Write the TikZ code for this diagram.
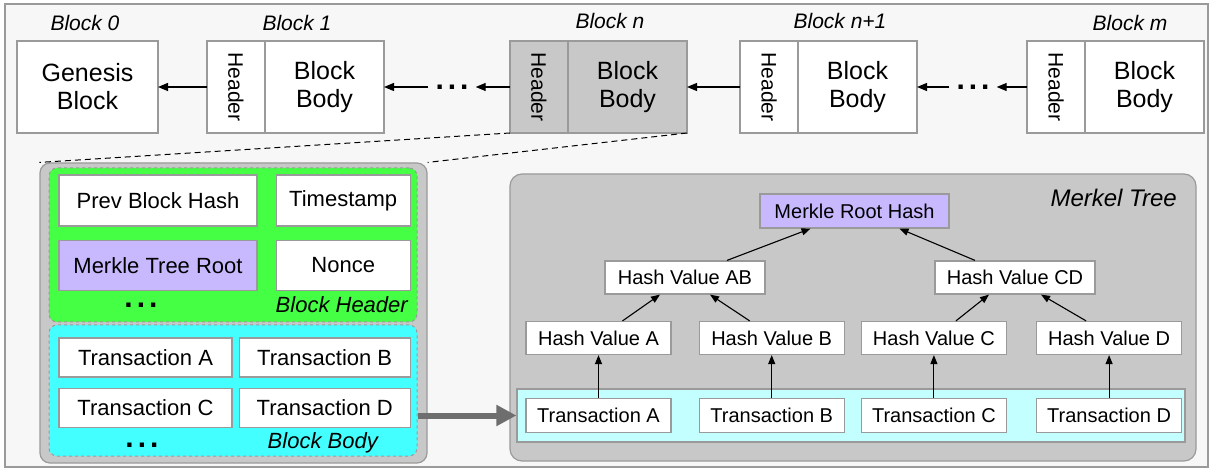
\documentclass[tikz,border=0pt]{standalone}
\usepackage{fontspec}
\setmainfont{Liberation Sans}
\usepackage{graphicx}
\usetikzlibrary{arrows.meta,positioning}
\definecolor{framebg}{HTML}{F7F7F7}
\definecolor{edgegray}{HTML}{9A9A9A}
\definecolor{cellgray}{HTML}{C8C8C8}
\definecolor{hdrgreen}{HTML}{44FF44}
\definecolor{bodycyan}{HTML}{44FFFF}
\definecolor{palecyan}{HTML}{C4FFFF}
\definecolor{rootlav}{HTML}{C8B9FF}
\definecolor{linkgray}{HTML}{6E6E6E}
\newcommand{\gapdots}{.\hspace{4pt}.\hspace{4pt}.}

\begin{document}
\begin{tikzpicture}[
x=1pt, y=-1pt,
cell/.style={draw=edgegray, fill=white, line width=1.2pt, inner sep=0pt, outer sep=0pt, align=center, minimum height=92pt, font=\fontsize{25}{28}\selectfont},
hdrcell/.style={cell, minimum width=58pt, font=\fontsize{21}{24}\selectfont},
bodycell/.style={cell, minimum width=119pt},
tag/.style={inner sep=0pt, font=\fontsize{21}{24}\selectfont\itshape},
dotsnode/.style={inner sep=0pt, minimum width=47pt, text height=4.2pt, text depth=0pt, font=\fontsize{30}{30}\selectfont\bfseries},
panel/.style={draw=edgegray, fill=cellgray, line width=1.2pt, rounded corners=10pt, inner sep=0pt},
zone/.style={draw=edgegray, dashed, line width=1pt, rounded corners=8pt, inner sep=0pt, minimum width=368pt},
field/.style={draw=edgegray, fill=white, line width=1.2pt, inner sep=0pt, font=\fontsize{22}{24}\selectfont},
hashbox/.style={draw=edgegray, fill=white, line width=1.2pt, inner sep=0pt, minimum width=145pt, minimum height=33pt, font=\fontsize{20}{22}\selectfont},
arrow/.style={-{Triangle[length=10pt,width=8pt]}, line width=1.2pt},
treearrow/.style={-{Triangle[length=9pt,width=7pt]}, line width=1.1pt},
biglink/.style={-{Triangle[length=20pt,width=20pt]}, line width=6pt, draw=linkgray}
]
\useasboundingbox (0,0) rectangle (1213,470);
\draw[draw=edgegray, fill=framebg, line width=1.5pt] (5,4) rectangle (1208,467);

\node[cell, minimum width=141pt] (b0) at (87.5,87) {Genesis\\Block};
\node[hdrcell] (b1h) at (236,87) {\rotatebox[origin=c]{-90}{Header}};
\node[bodycell, right=0pt of b1h] (b1b) {Block\\Body};
\node[dotsnode] (gap1) at (452,87) {\gapdots};
\node[hdrcell, fill=cellgray] (bnh) at (539,87) {\rotatebox[origin=c]{-90}{Header}};
\node[bodycell, fill=cellgray, right=0pt of bnh] (bnb) {Block\\Body};
\node[hdrcell] (bn1h) at (769,87) {\rotatebox[origin=c]{-90}{Header}};
\node[bodycell, right=0pt of bn1h] (bn1b) {Block\\Body};
\node[dotsnode] (gap2) at (973,87) {\gapdots};
\node[hdrcell] (bmh) at (1056,87) {\rotatebox[origin=c]{-90}{Header}};
\node[bodycell, right=0pt of bmh] (bmb) {Block\\Body};

\node[tag] (t0) at (85,23) {Block 0};
\node[tag] (t1) at (297,23) {Block 1};
\node[tag] (tn) at (610,21) {Block n};
\node[tag] (tn1) at (840,21) {Block n+1};
\node[tag] (tm) at (1130,23) {Block m};

\draw[arrow] (b1h) -- (b0);
\draw[arrow] (gap1) -- (b1b);
\draw[arrow] (bnh) -- (gap1);
\draw[arrow] (bn1h) -- (bnb);
\draw[arrow] (gap2) -- (bn1b);
\draw[arrow] (bmh) -- (gap2);

\node[panel, minimum width=387pt, minimum height=300pt] (detail) at (233.5,313) {};
\draw[dash pattern=on 6pt off 4pt, line width=1pt] (bnh.south west) -- (detail.north west);
\draw[dash pattern=on 6pt off 4pt, line width=1pt] (bnb.south east) -- (detail.north east);

\node[zone, fill=hdrgreen, minimum height=154pt] (head) at (233,245) {};
\node[zone, fill=bodycyan, minimum height=131pt] (body) at (233,390.5) {};
\node[field, minimum width=198pt, minimum height=51pt] (prev) at (158,200.5) {Prev Block Hash};
\node[field, minimum width=134pt, minimum height=51pt, right=18pt of prev] (stamp) {Timestamp};
\node[field, fill=rootlav, minimum width=198pt, minimum height=50pt, below=13pt of prev] (mroot) {Merkle Tree Root};
\node[field, minimum width=134pt, minimum height=50pt, below=13pt of stamp] (nonce) {Nonce};
\node[dotsnode] (hdots) at (141,305) {\gapdots};
\node[tag, font=\fontsize{22}{24}\selectfont\itshape, anchor=base east] (hlabel) at (408,313) {Block Header};
\node[field, minimum width=173pt, minimum height=39pt] (txa) at (145.5,357.5) {Transaction A};
\node[field, minimum width=171pt, minimum height=39pt, right=6pt of txa] (txb) {Transaction B};
\node[field, minimum width=173pt, minimum height=39pt, below=10pt of txa] (txc) {Transaction C};
\node[field, minimum width=171pt, minimum height=39pt, below=10pt of txb] (txd) {Transaction D};
\node[dotsnode] (bdots) at (142,445) {\gapdots};
\node[tag, font=\fontsize{22}{24}\selectfont\itshape, anchor=base east] (blabel) at (378,448) {Block Body};

\node[panel, rounded corners=12pt, minimum width=686pt, minimum height=287pt] (tree) at (853,317.5) {};
\node[tag, font=\fontsize{24}{26}\selectfont\itshape, anchor=base east] (tlabel) at (1177,207) {Merkel Tree};
\node[hashbox, fill=rootlav, minimum width=189pt, minimum height=34pt] (root) at (854.5,211) {Merkle Root Hash};
\node[hashbox, minimum width=160pt] (hab) at (685,277.5) {Hash Value AB};
\node[hashbox, minimum width=160pt] (hcd) at (1015,277.5) {Hash Value CD};
\node[hashbox] (ha) at (598.5,338) {Hash Value A};
\node[hashbox, right=27pt of ha] (hb) {Hash Value B};
\node[hashbox, right=16pt of hb] (hc) {Hash Value C};
\node[hashbox, right=29pt of hc] (hd) {Hash Value D};
\node[draw=edgegray, fill=palecyan, line width=1.2pt, minimum width=668pt, minimum height=53pt] (txrow) at (851,415.5) {};
\node[hashbox, minimum height=34pt] (ta) at (ha |- txrow) {Transaction A};
\node[hashbox, minimum height=34pt] (tb) at (hb |- txrow) {Transaction B};
\node[hashbox, minimum height=34pt] (tc) at (hc |- txrow) {Transaction C};
\node[hashbox, minimum height=34pt] (td) at (hd |- txrow) {Transaction D};

\draw[treearrow] (ta) -- (ha);
\draw[treearrow] (tb) -- (hb);
\draw[treearrow] (tc) -- (hc);
\draw[treearrow] (td) -- (hd);
\draw[treearrow] ([xshift=24pt]ha.north) -- ([xshift=-25pt]hab.south);
\draw[treearrow] ([xshift=-22pt]hb.north) -- ([xshift=25pt]hab.south);
\draw[treearrow] ([xshift=22pt]hc.north) -- ([xshift=-26pt]hcd.south);
\draw[treearrow] ([xshift=-23pt]hd.north) -- ([xshift=26pt]hcd.south);
\draw[treearrow] ([xshift=42pt]hab.north) -- ([xshift=-44pt]root.south);
\draw[treearrow] ([xshift=-40pt]hcd.north) -- ([xshift=45pt]root.south);

\draw[biglink] (body.east |- txrow.west) -- (txrow.west);
\end{tikzpicture}
\end{document}
